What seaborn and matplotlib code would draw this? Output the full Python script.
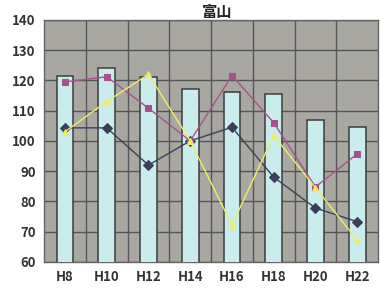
import numpy as np
import seaborn as sns
import matplotlib.pyplot as plt

years = ["H8", "H10", "H12", "H14", "H16", "H18", "H20", "H22"]
bars = [121.5, 124, 121, 117, 116, 115.5, 107, 104.5]
dark = [104.3, 104.3, 92, 100, 104.5, 88, 77.8, 73.3]
pink = [119.5, 121.2, 110.8, 100, 121.6, 106, 84.8, 95.7]
yellow = [103, 113, 122, 100, 72.2, 101.8, 84.5, 67.2]

sns.set_style("white")
plt.rcParams['font.family'] = ['Noto Sans CJK JP', 'DejaVu Sans']

fig = plt.figure(figsize=(3.8, 2.92), dpi=100)
ax = fig.add_axes([0.116, 0.103, 0.879, 0.829])
ax.set_facecolor("#a9a7a2")

sns.barplot(x=years, y=bars, color="#c9ecec", width=0.4, edgecolor="#3c3c3c",
            linewidth=1.1, saturation=1, ax=ax, zorder=3)

# lines: dark, pink, yellow (yellow on top)
series = [(dark, "#3b3f5a", "D"), (pink, "#a8508e", "s"), (yellow, "#eeee66", "^")]
for vals, c, m in series:
    sns.pointplot(x=years, y=vals, color=c, marker=m, markersize=5, linewidth=1,
                  ax=ax, zorder=4)

ax.set_ylim(60, 140)
ax.set_xlim(-0.5, 7.5)
ax.set_yticks(np.arange(60, 141, 10))
ax.set_xticks(np.arange(0.5, 7, 1), minor=True)
ax.grid(axis="y", which="major", color="#555555", linewidth=1, zorder=0)
ax.grid(axis="x", which="minor", color="#555555", linewidth=1, zorder=0)
ax.set_axisbelow(True)
for s in ax.spines.values():
    s.set_color("#666666")
    s.set_linewidth(1)
ax.tick_params(axis="both", which="major", labelsize=9.5, colors="#333333", length=0, pad=6)
ax.tick_params(axis="x", which="minor", length=0)
for lab in ax.get_xticklabels() + ax.get_yticklabels():
    lab.set_fontweight("bold")
ax.set_xlabel("")
ax.set_ylabel("")
fig.text(0.572, 0.958, "富山", ha="center", va="center", fontsize=11, fontweight="bold", color="#222222")

fig.savefig("out.png", dpi=100, facecolor="white")
